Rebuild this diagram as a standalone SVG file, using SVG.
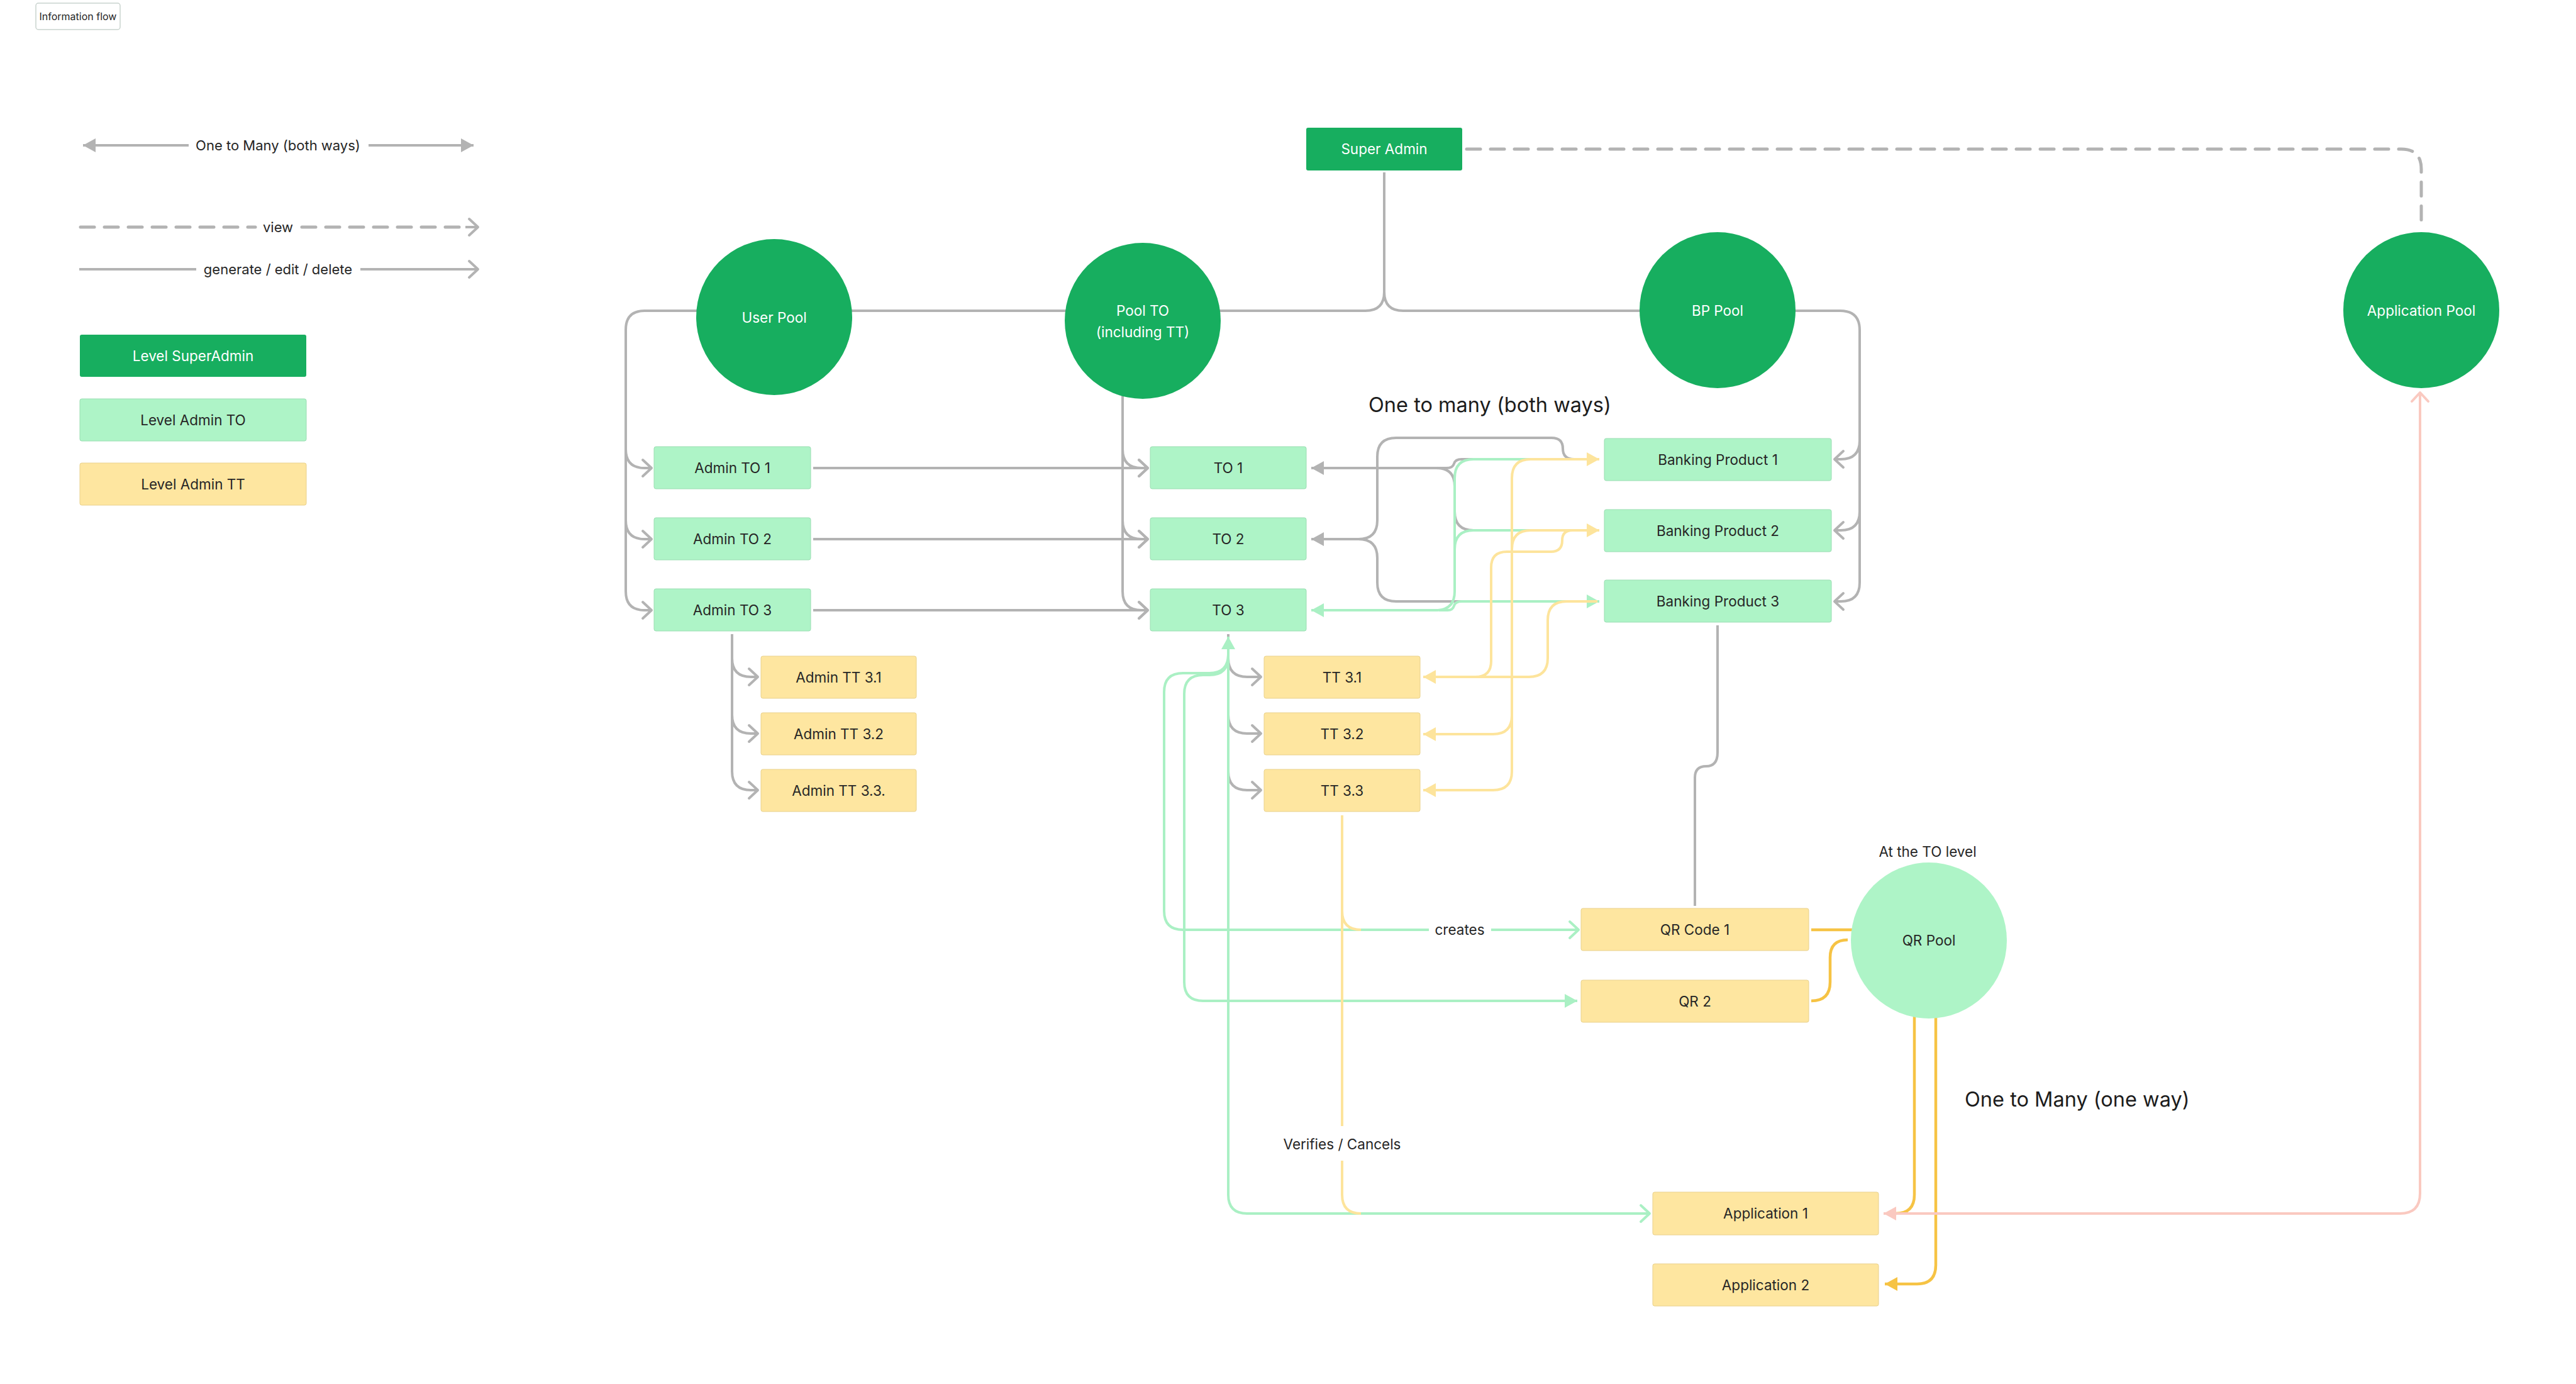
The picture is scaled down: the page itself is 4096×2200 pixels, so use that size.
<svg xmlns="http://www.w3.org/2000/svg" width="4096" height="2200" viewBox="0 0 4096 2200">
<style>
text{font-family:Inter,"Liberation Sans","DejaVu Sans",sans-serif;font-size:22.5px;fill:#262626;text-anchor:middle}
.w{fill:#ffffff}
.big{font-size:32.5px;fill:#1c1c1c;text-anchor:start}
.dg{fill:#17AE5F}
.lg{fill:#AEF4C7;stroke:#9ADDB2;stroke-width:1}
.ye{fill:#FEE6A0;stroke:#E9D18C;stroke-width:1}
.ln{fill:none;stroke-width:4;stroke-linejoin:round}
.gr{stroke:#B3B3B3}
.gn{stroke:#AAF0C4}
.yl{stroke:#FDE49C}
.or{stroke:#F6C344;stroke-width:4.5}
.pk{stroke:#FAC9C0}
.dash{fill:none;stroke:#B3B3B3;stroke-width:5;stroke-dasharray:22 16;stroke-linecap:round}
</style>
<defs>
<marker id="grayO" markerUnits="userSpaceOnUse" orient="auto" overflow="visible" markerWidth="1" markerHeight="1"><path d="M-14,-13 L0,0 L-14,13" fill="none" stroke="#B3B3B3" stroke-width="4" stroke-linecap="round" stroke-linejoin="round"/></marker>
<marker id="grayF" markerUnits="userSpaceOnUse" orient="auto-start-reverse" overflow="visible" markerWidth="1" markerHeight="1"><path d="M0,0 L-20,-11 L-20,11 Z" fill="#B3B3B3"/></marker>
<marker id="greenO" markerUnits="userSpaceOnUse" orient="auto" overflow="visible" markerWidth="1" markerHeight="1"><path d="M-14,-13 L0,0 L-14,13" fill="none" stroke="#AAF0C4" stroke-width="4" stroke-linecap="round" stroke-linejoin="round"/></marker>
<marker id="greenF" markerUnits="userSpaceOnUse" orient="auto-start-reverse" overflow="visible" markerWidth="1" markerHeight="1"><path d="M0,0 L-20,-11 L-20,11 Z" fill="#AAF0C4"/></marker>
<marker id="yelF" markerUnits="userSpaceOnUse" orient="auto-start-reverse" overflow="visible" markerWidth="1" markerHeight="1"><path d="M0,0 L-20,-11 L-20,11 Z" fill="#FDE49C"/></marker>
<marker id="orF" markerUnits="userSpaceOnUse" orient="auto-start-reverse" overflow="visible" markerWidth="1" markerHeight="1"><path d="M0,0 L-20,-11 L-20,11 Z" fill="#F6C344"/></marker>
<marker id="pkF" markerUnits="userSpaceOnUse" orient="auto-start-reverse" overflow="visible" markerWidth="1" markerHeight="1"><path d="M0,0 L-20,-11 L-20,11 Z" fill="#FAC9C0"/></marker>
<marker id="pkO" markerUnits="userSpaceOnUse" orient="auto" overflow="visible" markerWidth="1" markerHeight="1"><path d="M-14,-13 L0,0 L-14,13" fill="none" stroke="#FAC9C0" stroke-width="4" stroke-linecap="round" stroke-linejoin="round"/></marker>
</defs>
<rect width="4096" height="2200" fill="#ffffff"/>

<g id="legend">
<rect x="57" y="5" width="134" height="42" rx="4" fill="#ffffff" stroke="#C9D3CE" stroke-width="1.5"/>
<text x="124" y="32" style="font-size:16px">Information flow</text>
<path class="ln gr" d="M300 231 H132" marker-end="url(#grayF)"/>
<path class="ln gr" d="M586 231 H753" marker-end="url(#grayF)"/>
<text x="442" y="239" style="font-size:22px">One to Many (both ways)</text>
<path class="dash" d="M128 361 H406"/>
<path class="dash" d="M480 361 H740"/>
<path class="ln gr" d="M740 361 H760" marker-end="url(#grayO)"/>
<text x="442" y="369" style="font-size:22px">view</text>
<path class="ln gr" d="M126 428 H312"/>
<path class="ln gr" d="M573 428 H760" marker-end="url(#grayO)"/>
<text x="442" y="436" style="font-size:22px">generate / edit / delete</text>
<rect x="127" y="532" width="360" height="67" rx="3" class="dg"/>
<text x="307" y="574" class="w">Level SuperAdmin</text>
<rect x="127" y="634" width="360" height="67" rx="3" class="lg"/>
<text x="307" y="676">Level Admin TO</text>
<rect x="127" y="736" width="360" height="67" rx="3" class="ye"/>
<text x="307" y="778">Level Admin TT</text>
</g>

<g id="connectors">
<!-- gray structure -->
<path class="ln gr" d="M2201 274 V464 Q2201 494 2171 494 H1025 Q995 494 995 524 V940 Q995 970 1025 970 H1036" marker-end="url(#grayO)"/>
<path class="ln gr" d="M995 714 Q995 744 1025 744 H1036" marker-end="url(#grayO)"/>
<path class="ln gr" d="M995 827 Q995 857 1025 857 H1036" marker-end="url(#grayO)"/>
<path class="ln gr" d="M2201 464 Q2201 494 2231 494 H2926 Q2957 494 2957 525 V926 Q2957 956 2927 956 H2917" marker-end="url(#grayO)"/>
<path class="ln gr" d="M2957 700 Q2957 730 2927 730 H2917" marker-end="url(#grayO)"/>
<path class="ln gr" d="M2957 813 Q2957 843 2927 843 H2917" marker-end="url(#grayO)"/>
<path class="ln gr" d="M1785 626 V940 Q1785 970 1815 970 H1825" marker-end="url(#grayO)"/>
<path class="ln gr" d="M1785 714 Q1785 744 1815 744 H1825" marker-end="url(#grayO)"/>
<path class="ln gr" d="M1785 827 Q1785 857 1815 857 H1825" marker-end="url(#grayO)"/>
<path class="ln gr" d="M1293 744 H1825" marker-end="url(#grayO)"/>
<path class="ln gr" d="M1293 857 H1825" marker-end="url(#grayO)"/>
<path class="ln gr" d="M1293 970 H1825" marker-end="url(#grayO)"/>
<path class="ln gr" d="M1164 1008 V1226 Q1164 1256 1194 1256 H1205" marker-end="url(#grayO)"/>
<path class="ln gr" d="M1164 1046 Q1164 1076 1194 1076 H1205" marker-end="url(#grayO)"/>
<path class="ln gr" d="M1164 1136 Q1164 1166 1194 1166 H1205" marker-end="url(#grayO)"/>
<path class="ln gr" d="M1953 1008 V1226 Q1953 1256 1983 1256 H2005" marker-end="url(#grayO)"/>
<path class="ln gr" d="M1953 1046 Q1953 1076 1983 1076 H2005" marker-end="url(#grayO)"/>
<path class="ln gr" d="M1953 1136 Q1953 1166 1983 1166 H2005" marker-end="url(#grayO)"/>
<path class="dash" d="M2332 237 H3818 Q3850 237 3850 269 V363"/>
<!-- TO <-> BP (gray) -->
<path class="ln gr" d="M2085 744 H2300 Q2310 744 2312 737 Q2314 730 2324 730 H2540" marker-start="url(#grayF)"/>
<path class="ln gr" d="M2284 744 Q2313 744 2313 773 V813 Q2313 843 2343 843 H2540"/>
<path class="ln gr" d="M2085 857 H2160 Q2190 857 2190 827 V726 Q2190 696 2220 696 H2467 Q2485 696 2485 713 Q2485 730 2503 730 H2540" marker-start="url(#grayF)"/>
<path class="ln gr" d="M2160 857 Q2190 857 2190 887 V926 Q2190 956 2220 956 H2540"/>
<path class="ln gr" d="M2731 994 V1196 Q2731 1218 2713 1218 Q2695 1218 2695 1236 V1440"/>
<!-- TO <-> BP (green) -->
<path class="ln gn" d="M2085 970 H2283 Q2313 970 2313 940 V760 Q2313 730 2343 730 H2540" marker-start="url(#greenF)"/>
<path class="ln gn" d="M2313 873 Q2313 843 2343 843 H2540"/>
<path class="ln gn" d="M2288 970 H2302 Q2310 970 2312 963 Q2314 956 2324 956 H2543" marker-end="url(#greenF)"/>
<!-- QR / application (green) -->
<path class="ln gn" d="M1953 1012 V1040 Q1953 1070 1923 1070 H1881 Q1851 1070 1851 1100 V1448 Q1851 1478 1881 1478 H2510" marker-start="url(#greenF)" marker-end="url(#greenO)"/>
<path class="ln gn" d="M1953 1043 Q1953 1073 1923 1073 H1913 Q1883 1073 1883 1103 V1561 Q1883 1591 1913 1591 H2508" marker-end="url(#greenF)"/>
<path class="ln gn" d="M1953 1012 V1899 Q1953 1929 1983 1929 H2623" marker-end="url(#greenO)"/>
<!-- BP -> TT (yellow) -->
<path class="ln yl" d="M2543 730 H2434 Q2404 730 2404 760 V1226 Q2404 1256 2374 1256 H2263" marker-start="url(#yelF)" marker-end="url(#yelF)"/>
<path class="ln yl" d="M2404 1137 Q2404 1167 2374 1167 H2263" marker-end="url(#yelF)"/>
<path class="ln yl" d="M2543 843 H2434 Q2404 843 2404 873" marker-start="url(#yelF)"/>
<path class="ln yl" d="M2540 843 H2500 Q2484 843 2484 859 Q2484 877 2466 877 H2396 Q2371 877 2371 902 V1051 Q2371 1076 2346 1076 H2263" marker-end="url(#yelF)"/>
<path class="ln yl" d="M2540 956 H2491 Q2461 956 2461 986 V1046 Q2461 1076 2431 1076 H2263"/>
<!-- TT 3.3 verifies / creates -->
<path class="ln yl" d="M2134 1296 V1790"/>
<path class="ln yl" d="M2134 1448 Q2134 1478 2164 1478"/>
<path class="ln yl" d="M2134 1845 V1899 Q2134 1929 2164 1929"/>
<!-- QR pool (orange) -->
<path class="ln or" d="M2880 1478 H2945"/>
<path class="ln or" d="M2880 1591 Q2910 1591 2910 1561 V1522 Q2910 1494 2938 1494"/>
<path class="ln or" d="M3044 1610 V1899 Q3044 1929 3014 1929 H3000"/>
<path class="ln or" d="M3078 1612 V2011 Q3078 2041 3048 2041 H2997" marker-end="url(#orF)"/>
<!-- application pool (pink) -->
<path class="ln pk" d="M2995 1929 H3816 Q3848 1929 3848 1897 V624" marker-start="url(#pkF)" marker-end="url(#pkO)"/>
<!-- labels -->
<rect x="2272" y="1462" width="99" height="32" fill="#ffffff"/>
<text x="2321" y="1486">creates</text>
<rect x="2030" y="1792" width="208" height="52" fill="#ffffff"/>
<text x="2134" y="1827">Verifies / Cancels</text>
</g>

<g id="super-admin"><rect x="2077" y="203" width="248" height="68" rx="3" class="dg"/><text x="2201" y="245" class="w">Super Admin</text></g>
<g id="user-pool"><circle cx="1231" cy="504" r="124" class="dg"/><text x="1231" y="513" class="w">User Pool</text></g>
<g id="pool-to"><circle cx="1817" cy="510" r="124" class="dg"/><text x="1817" y="502" class="w">Pool TO</text><text x="1817" y="536" class="w">(including TT)</text></g>
<g id="bp-pool"><circle cx="2731" cy="493" r="124" class="dg"/><text x="2731" y="502" class="w">BP Pool</text></g>
<g id="application-pool"><circle cx="3850" cy="493" r="124" class="dg"/><text x="3850" y="502" class="w">Application Pool</text></g>

<g id="admin-to-1"><rect x="1040" y="710" width="249" height="67" rx="3" class="lg"/><text x="1164.5" y="752">Admin TO 1</text></g>
<g id="admin-to-2"><rect x="1040" y="823" width="249" height="67" rx="3" class="lg"/><text x="1164.5" y="865">Admin TO 2</text></g>
<g id="admin-to-3"><rect x="1040" y="936" width="249" height="67" rx="3" class="lg"/><text x="1164.5" y="978">Admin TO 3</text></g>
<g id="admin-tt-3-1"><rect x="1210" y="1043" width="247" height="67" rx="3" class="ye"/><text x="1333.5" y="1085">Admin TT 3.1</text></g>
<g id="admin-tt-3-2"><rect x="1210" y="1133" width="247" height="67" rx="3" class="ye"/><text x="1333.5" y="1175">Admin TT 3.2</text></g>
<g id="admin-tt-3-3"><rect x="1210" y="1223" width="247" height="67" rx="3" class="ye"/><text x="1333.5" y="1265">Admin TT 3.3.</text></g>

<g id="to-1"><rect x="1829" y="710" width="248" height="67" rx="3" class="lg"/><text x="1953" y="752">TO 1</text></g>
<g id="to-2"><rect x="1829" y="823" width="248" height="67" rx="3" class="lg"/><text x="1953" y="865">TO 2</text></g>
<g id="to-3"><rect x="1829" y="936" width="248" height="67" rx="3" class="lg"/><text x="1953" y="978">TO 3</text></g>
<g id="tt-3-1"><rect x="2010" y="1043" width="248" height="67" rx="3" class="ye"/><text x="2134" y="1085">TT 3.1</text></g>
<g id="tt-3-2"><rect x="2010" y="1133" width="248" height="67" rx="3" class="ye"/><text x="2134" y="1175">TT 3.2</text></g>
<g id="tt-3-3"><rect x="2010" y="1223" width="248" height="67" rx="3" class="ye"/><text x="2134" y="1265">TT 3.3</text></g>

<g id="banking-product-1"><rect x="2551" y="697" width="361" height="67" rx="3" class="lg"/><text x="2731.5" y="739">Banking Product 1</text></g>
<g id="banking-product-2"><rect x="2551" y="810" width="361" height="67" rx="3" class="lg"/><text x="2731.5" y="852">Banking Product 2</text></g>
<g id="banking-product-3"><rect x="2551" y="922" width="361" height="67" rx="3" class="lg"/><text x="2731.5" y="964">Banking Product 3</text></g>

<g id="qr-code-1"><rect x="2514" y="1444" width="362" height="67" rx="3" class="ye"/><text x="2695" y="1486">QR Code 1</text></g>
<g id="qr-2"><rect x="2514" y="1558" width="362" height="67" rx="3" class="ye"/><text x="2695" y="1600">QR 2</text></g>
<g id="qr-pool"><circle cx="3067" cy="1495" r="124" fill="#AEF4C7"/><text x="3067" y="1503">QR Pool</text><text x="3065" y="1362">At the TO level</text></g>
<g id="application-1"><rect x="2628" y="1895" width="359" height="68" rx="3" class="ye"/><text x="2807.5" y="1937">Application 1</text></g>
<g id="application-2"><rect x="2628" y="2009" width="359" height="67" rx="3" class="ye"/><text x="2807.5" y="2051">Application 2</text></g>

<g id="notes">
<text x="2176" y="655" class="big">One to many (both ways)</text>
<text x="3124" y="1759" class="big">One to Many (one way)</text>
</g>
</svg>
